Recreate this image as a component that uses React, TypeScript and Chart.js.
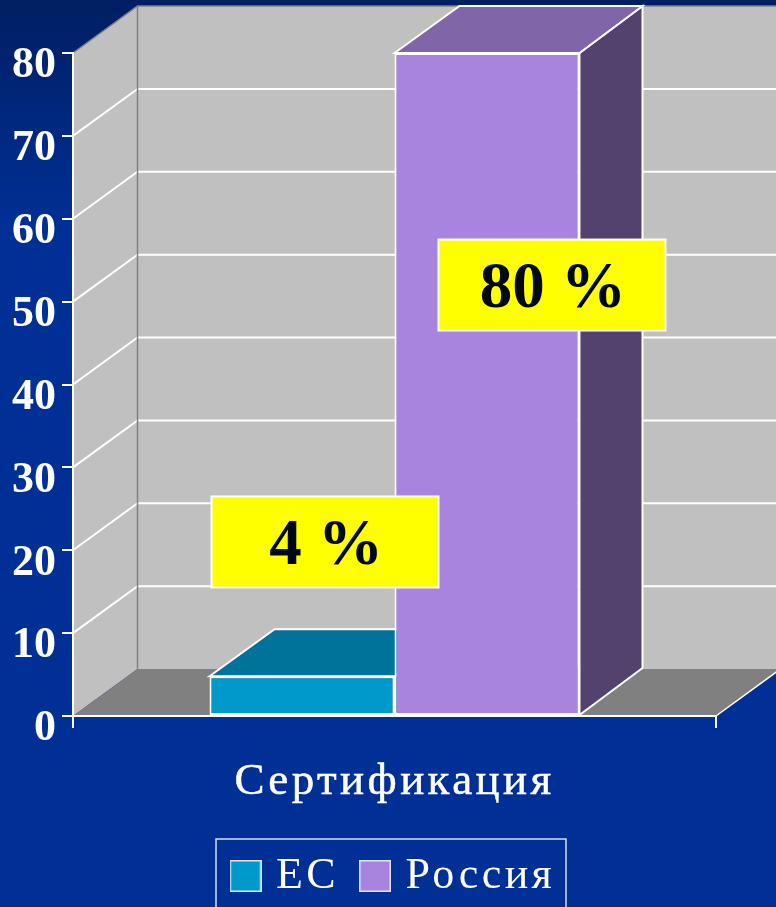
import React, { useEffect, useRef } from "react";
import { Chart, registerables } from "chart.js";

Chart.register(...registerables);

const categories = ["Сертификация"];
const seriesNames = ["ЕС", "Россия"];
const euValues = [4.8];
const russiaValues = [80];
const calloutTexts = ["4 %", "80 %"];
const calloutLevels = [21, 52];
const calloutShifts = [23, 65];
const yTicks = { min: 0, max: 80, step: 10 };

const FRONT = ["#0099cc", "#a884de"];
const TOP = ["#00739b", "#8066a8"];
const SIDE = ["#005f80", "#54426e"];
const SERIF = "'Liberation Serif', serif";
const WALL_DX = 64.5;
const BAR_DX_LEFT = 65;
const BAR_DX_RIGHT = 63;
const DEPTH_DY = 47;
const WIDE_TEXT = "3.4px";

function swatch(color: string) {
  const c = document.createElement("canvas");
  c.width = 32;
  c.height = 32;
  const g = c.getContext("2d")!;
  g.fillStyle = "#dfe6f0";
  g.fillRect(0, 0, 32, 32);
  g.fillStyle = color;
  g.fillRect(1.5, 1.5, 29, 29);
  return c;
}

function poly(ctx: CanvasRenderingContext2D, pts: number[][], fill?: string, stroke?: string, lw = 1.5) {
  ctx.beginPath();
  pts.forEach(([x, y], i) => (i ? ctx.lineTo(x, y) : ctx.moveTo(x, y)));
  if (fill) {
    ctx.closePath();
    ctx.fillStyle = fill;
    ctx.fill();
  }
  if (stroke) {
    ctx.strokeStyle = stroke;
    ctx.lineWidth = lw;
    ctx.stroke();
  }
}

const scenePlugin = {
  id: "scene3d",
  afterLayout(chart: any) {
    const lg = chart.legend;
    lg.left = 209.5;
    lg.right = 776;
    lg.top = 826.5;
    // the value axis keeps normal tracking, the rest of the text is spaced out
    const yScale = chart.scales.y;
    const drawLabels = yScale.drawLabels;
    yScale.drawLabels = function (area: any) {
      const prev = chart.ctx.letterSpacing;
      chart.ctx.letterSpacing = "0px";
      drawLabels.call(this, area);
      chart.ctx.letterSpacing = prev;
    };
  },
  beforeDraw(chart: any) {
    const { ctx, width, height, scales } = chart;
    const { x, y } = scales;
    ctx.letterSpacing = WIDE_TEXT;
    const grad = ctx.createLinearGradient(0, 0, 0, 230);
    grad.addColorStop(0, "#001f63");
    grad.addColorStop(1, "#003096");
    ctx.fillStyle = grad;
    ctx.fillRect(0, 0, width, height);

    const l = x.left;
    const r = x.right;
    const t = y.getPixelForValue(yTicks.max);
    const b = y.getPixelForValue(yTicks.min);
    // side wall, back wall, floor
    poly(ctx, [[l, t], [l + WALL_DX, t - DEPTH_DY], [l + WALL_DX, b - DEPTH_DY], [l, b]], "#c0c0c0");
    poly(ctx, [[l + WALL_DX, t - DEPTH_DY], [r + WALL_DX, t - DEPTH_DY], [r + WALL_DX, b - DEPTH_DY], [l + WALL_DX, b - DEPTH_DY]], "#c0c0c0");
    poly(ctx, [[l, b], [l + WALL_DX, b - DEPTH_DY], [r + WALL_DX, b - DEPTH_DY], [r, b]], "#808080");
    // gridlines
    y.ticks.forEach((tk: any) => {
      if (tk.value === yTicks.min || tk.value === yTicks.max) return;
      const p = y.getPixelForValue(tk.value);
      poly(ctx, [[l, p], [l + WALL_DX, p - DEPTH_DY], [r + WALL_DX, p - DEPTH_DY]], undefined, "#ffffff", 2);
    });
    // edges
    poly(ctx, [[l, t], [l + WALL_DX, t - DEPTH_DY], [r + WALL_DX, t - DEPTH_DY]], undefined, "#808080", 1.5);
    poly(ctx, [[l + WALL_DX, t - DEPTH_DY], [l + WALL_DX, b - DEPTH_DY]], undefined, "#808080", 1.5);
    poly(ctx, [[r, b], [r + WALL_DX, b - DEPTH_DY]], undefined, "#ffffff", 1.5);
  },
  beforeDatasetsDraw(chart: any) {
    const { ctx } = chart;
    chart.data.datasets.forEach((_: any, i: number) => {
      const bar = chart.getDatasetMeta(i).data[0];
      const a = bar.x - bar.width / 2;
      const c = bar.x + bar.width / 2;
      const tp = bar.y;
      const bs = bar.base;
      poly(ctx, [[c, tp], [c + BAR_DX_RIGHT, tp - DEPTH_DY], [c + BAR_DX_RIGHT, bs - DEPTH_DY], [c, bs]], SIDE[i], "#ffffff", 2);
      poly(ctx, [[a, tp], [a + BAR_DX_LEFT, tp - DEPTH_DY], [c + BAR_DX_RIGHT, tp - DEPTH_DY], [c, tp]], TOP[i], "#ffffff", 2);
    });
  },
  afterDraw(chart: any) {
    const { ctx, scales } = chart;
    ctx.letterSpacing = "0px";
    // legend frame
    ctx.strokeStyle = "#d8dfee";
    ctx.lineWidth = 1.5;
    ctx.strokeRect(216, 839, 350, 90);
    // callouts
    calloutTexts.forEach((txt, i) => {
      const bar = chart.getDatasetMeta(i).data[0];
      const cx = bar.x + calloutShifts[i];
      const cy = scales.y.getPixelForValue(calloutLevels[i]);
      ctx.fillStyle = "#ffff00";
      ctx.fillRect(cx - 113.5, cy - 45.5, 227, 91);
      ctx.strokeStyle = "#ffffff";
      ctx.lineWidth = 2;
      ctx.strokeRect(cx - 113.5, cy - 45.5, 227, 91);
      ctx.fillStyle = "#000814";
      ctx.font = `bold 65px ${SERIF}`;
      ctx.textAlign = "center";
      ctx.textBaseline = "middle";
      ctx.fillText(txt, cx + 1, cy + 5);
    });
  },
};

export default function App() {
  const ref = useRef<HTMLCanvasElement>(null);
  useEffect(() => {
    document.body.style.margin = "0";
    document.body.style.background = "#003096";
    const chart = new Chart(ref.current!, {
      type: "bar",
      data: {
        labels: categories,
        datasets: [
          { label: seriesNames[0], data: euValues, backgroundColor: FRONT[0] },
          { label: seriesNames[1], data: russiaValues, backgroundColor: FRONT[1] },
        ].map((d) => ({
          ...d,
          borderColor: "#ffffff",
          borderWidth: 2,
          borderSkipped: false,
          barPercentage: 1,
          categoryPercentage: 0.5754,
          clip: false,
        })) as any,
      },
      options: {
        responsive: false,
        animation: false,
        layout: { padding: { top: 53, right: 60, left: 0, bottom: 0 } },
        plugins: {
          tooltip: { enabled: false },
          title: { display: false },
          legend: {
            position: "bottom",
            align: "start",
            labels: {
              color: "#ffffff",
              font: { family: SERIF, size: 44, lineHeight: 1.32 },
              usePointStyle: true,
              pointStyleWidth: 17,
              padding: 27.5,
              generateLabels: (c: any) =>
                c.data.datasets.map((d: any, i: number) => ({
                  text: d.label,
                  pointStyle: swatch(FRONT[i]),
                  fontColor: "#ffffff",
                  datasetIndex: i,
                  hidden: false,
                })),
            },
          },
        },
        scales: {
          x: {
            type: "category",
            afterFit: (s: any) => {
              s.height = 191 - s.chart.legend.height;
            },
            border: { display: true, color: "#ffffff", width: 2 },
            grid: { display: true, offset: true, drawOnChartArea: false, drawTicks: true, color: "#ffffff", lineWidth: 2, tickLength: 12 },
            ticks: {
              color: "#ffffff",
              font: { family: SERIF, size: 45 },
              padding: 27,
              maxRotation: 0,
              textStrokeColor: "#ffffff",
              textStrokeWidth: 0.5,
            },
          },
          y: {
            min: yTicks.min,
            max: yTicks.max,
            afterFit: (s: any) => {
              s.width = 73;
            },
            border: { display: true, color: "#ffffff", width: 2 },
            grid: { display: true, drawOnChartArea: false, drawTicks: true, color: "#ffffff", lineWidth: 2, tickLength: 11 },
            ticks: {
              stepSize: yTicks.step,
              color: "#ffffff",
              padding: 6,
              font: { family: SERIF, size: 44, weight: "bold", lineHeight: "26px" },
              callback: (v: any) => ["", String(v)],
            },
          },
        },
      },
      plugins: [scenePlugin],
    } as any);
    return () => chart.destroy();
  }, []);
  return <canvas ref={ref} width={776} height={907} style={{ display: "block" }} />;
}
